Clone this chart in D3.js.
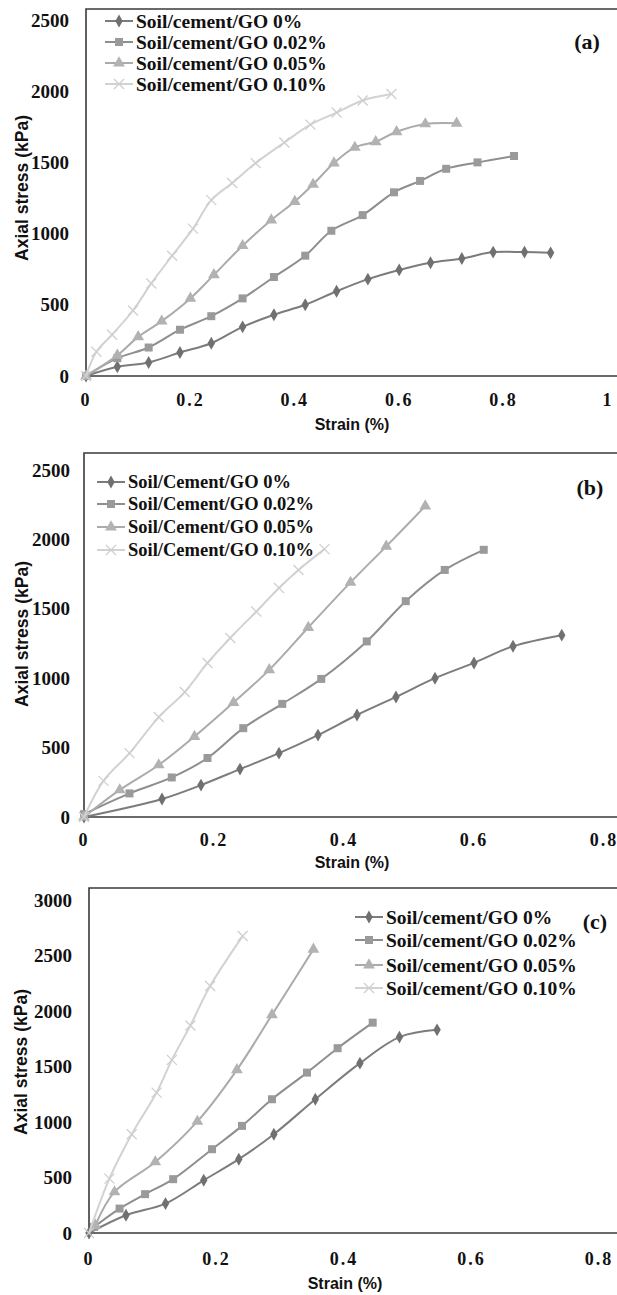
<!DOCTYPE html>
<html>
<head>
<meta charset="utf-8">
<script src="https://cdn.jsdelivr.net/npm/d3@7"></script>
<style>
  body { margin: 0; background: #fff; }
  svg { display: block; }
</style>
</head>
<body>
<svg id="chart" width="617" height="1295"></svg>
<script>
// ---- data: [strain %, axial stress kPa] ----
const goLevels = ["0%", "0.02%", "0.05%", "0.10%"];

const aGO0  = [[0,0],[0.06,65],[0.12,95],[0.18,165],[0.24,230],[0.30,345],[0.36,430],[0.42,500],[0.48,595],[0.54,680],[0.60,745],[0.66,795],[0.72,825],[0.78,870],[0.84,870],[0.89,865]];
const aGO02 = [[0,0],[0.06,125],[0.12,200],[0.18,325],[0.24,420],[0.30,545],[0.36,695],[0.42,845],[0.47,1020],[0.53,1130],[0.59,1290],[0.64,1370],[0.69,1455],[0.75,1500],[0.82,1545]];
const aGO05 = [[0,0],[0.06,145],[0.10,275],[0.145,385],[0.20,545],[0.245,710],[0.30,915],[0.355,1095],[0.40,1225],[0.435,1345],[0.475,1495],[0.515,1605],[0.555,1645],[0.595,1715],[0.65,1770],[0.71,1775]];
const aGO10 = [[0,0],[0.02,170],[0.05,290],[0.09,460],[0.125,650],[0.165,845],[0.205,1035],[0.24,1235],[0.28,1355],[0.325,1495],[0.38,1640],[0.43,1765],[0.48,1850],[0.53,1935],[0.585,1980]];

const bGO0  = [[0,0],[0.12,130],[0.18,230],[0.24,345],[0.30,460],[0.36,590],[0.42,735],[0.48,865],[0.54,1000],[0.60,1110],[0.66,1230],[0.735,1310]];
const bGO02 = [[0,20],[0.07,170],[0.135,285],[0.19,425],[0.245,640],[0.305,815],[0.365,995],[0.435,1265],[0.495,1555],[0.555,1780],[0.615,1925]];
const bGO05 = [[0,0],[0.055,195],[0.115,375],[0.17,580],[0.23,825],[0.285,1060],[0.345,1365],[0.41,1690],[0.465,1950],[0.525,2240]];
const bGO10 = [[0,0],[0.03,260],[0.07,460],[0.115,720],[0.155,900],[0.19,1110],[0.225,1290],[0.265,1480],[0.30,1650],[0.33,1780],[0.37,1930]];

const cGO0  = [[0,0],[0.058,160],[0.12,265],[0.18,475],[0.235,665],[0.29,890],[0.355,1205],[0.425,1530],[0.487,1765],[0.546,1830]];
const cGO02 = [[0.008,55],[0.048,220],[0.088,350],[0.132,485],[0.193,755],[0.24,965],[0.287,1205],[0.342,1445],[0.39,1665],[0.445,1895]];
const cGO05 = [[0.01,70],[0.04,370],[0.104,640],[0.17,1005],[0.232,1470],[0.287,1965],[0.352,2555]];
const cGO10 = [[0,0],[0.032,490],[0.067,890],[0.106,1265],[0.13,1560],[0.159,1870],[0.19,2225],[0.241,2675]];

const xTicksA = [0, 0.2, 0.4, 0.6, 0.8, 1];
const xTicksBC = [0, 0.2, 0.4, 0.6, 0.8];
const yTicksAB = [0, 500, 1000, 1500, 2000, 2500];
const yTicksC = [0, 500, 1000, 1500, 2000, 2500, 3000];

// ---- styles ----
const serif = "'Liberation Serif', 'Times New Roman', serif";
const sans = "'Liberation Sans', Arial, sans-serif";
const lineColor = ["#7c7c7c", "#8e8e8e", "#ababab", "#d2d2d2"];
const markColor = ["#707070", "#9a9a9a", "#b2b2b2", "#cfcfcf"];
const markType = ["diamond", "square", "triangle", "cross"];

const fmtX = v => v === 0 || v === 1 ? String(v) : v.toFixed(1);

const panels = [
  { tag: "(a)", word: "cement", series: [aGO0, aGO02, aGO05, aGO10], xMax: 1, yMax: 2500,
    xTicks: xTicksA, yTicks: yTicksAB,
    left: 86, right: 608, bottom: 376, top: 20, frameTop: 9,
    yLabelX: 69, xLabelY: 406, titleX: 352, titleY: 430, yTitleX: 22, yTitleY: 188,
    legX: 105, legY: [21, 42, 63, 84], legSize: 19.5, tagX: 587, tagY: 49 },
  { tag: "(b)", word: "Cement", series: [bGO0, bGO02, bGO05, bGO10], xMax: 0.8, yMax: 2500,
    xTicks: xTicksBC, yTicks: yTicksAB,
    left: 84, right: 604, bottom: 817, top: 470, frameTop: 453,
    yLabelX: 70, xLabelY: 846, titleX: 352, titleY: 868, yTitleX: 22, yTitleY: 634,
    legX: 97, legY: [482, 504, 527, 550], legSize: 18.5, tagX: 590, tagY: 495 },
  { tag: "(c)", word: "cement", series: [cGO0, cGO02, cGO05, cGO10], xMax: 0.8, yMax: 3000,
    xTicks: xTicksBC, yTicks: yTicksC,
    left: 89, right: 599, bottom: 1233, top: 900, frameTop: 888,
    yLabelX: 72, xLabelY: 1265, titleX: 345, titleY: 1289, yTitleX: 21, yTitleY: 1062,
    legX: 355, legY: [917, 940, 965, 988], legSize: 19.5, tagX: 595, tagY: 929 }
];

const svg = d3.select("#chart");

function drawMarker(g, type, i, x, y) {
  if (type === "cross") {
    const s = 5;
    g.append("path")
      .attr("d", `M${x - s},${y - s}L${x + s},${y + s}M${x - s},${y + s}L${x + s},${y - s}`)
      .attr("stroke", markColor[i]).attr("stroke-width", 1.3).attr("fill", "none");
    return;
  }
  const sym = type === "diamond" ? d3.symbolDiamond : type === "square" ? d3.symbolSquare : d3.symbolTriangle;
  const size = type === "diamond" ? 48 : type === "square" ? 64 : 60;
  g.append("path")
    .attr("d", d3.symbol().type(sym).size(size)())
    .attr("transform", `translate(${x},${y})`)
    .attr("fill", markColor[i]);
}

function renderPanel(p) {
  const g = svg.append("g");
  const x = d3.scaleLinear().domain([0, p.xMax]).range([p.left, p.right]);
  const y = d3.scaleLinear().domain([0, p.yMax]).range([p.bottom, p.top]);

  // frame: left axis, bottom axis, top border running to the page edge
  g.append("path")
    .attr("d", `M617,${p.frameTop}H${p.left}V${p.bottom}H617`)
    .attr("fill", "none").attr("stroke", "#3a3a3a").attr("stroke-width", 1.6);

  g.selectAll(".ylab").data(p.yTicks).join("text")
    .attr("x", p.yLabelX).attr("y", d => y(d)).attr("dy", "0.35em")
    .attr("text-anchor", "end")
    .style("font", `bold 19px ${serif}`).style("fill", "#111")
    .text(d => d);

  g.selectAll(".xlab").data(p.xTicks).join("text")
    .attr("x", d => x(d)).attr("y", p.xLabelY)
    .attr("text-anchor", "middle")
    .style("font", `bold 18px ${serif}`).style("letter-spacing", "2px").style("fill", "#111")
    .text(fmtX);

  g.append("text")
    .attr("x", p.titleX).attr("y", p.titleY)
    .attr("text-anchor", "middle")
    .style("font", `bold 16px ${sans}`).style("fill", "#111")
    .text("Strain (%)");

  g.append("text")
    .attr("transform", `translate(${p.yTitleX},${p.yTitleY}) rotate(-90)`)
    .attr("text-anchor", "middle").attr("dy", "0.35em")
    .style("font", `bold 17.5px ${sans}`).style("fill", "#111")
    .text("Axial stress (kPa)");

  const line = d3.line().x(d => x(d[0])).y(d => y(d[1])).curve(d3.curveCatmullRom.alpha(0.5));

  p.series.forEach((data, i) => {
    g.append("path")
      .attr("d", line(data))
      .attr("fill", "none").attr("stroke", lineColor[i]).attr("stroke-width", 2);
    const mg = g.append("g");
    data.forEach(d => drawMarker(mg, markType[i], i, x(d[0]), y(d[1])));
  });

  // legend
  goLevels.forEach((lvl, i) => {
    const ly = p.legY[i];
    g.append("line")
      .attr("x1", p.legX).attr("x2", p.legX + 28).attr("y1", ly).attr("y2", ly)
      .attr("stroke", lineColor[i]).attr("stroke-width", 2);
    drawMarker(g, markType[i], i, p.legX + 14, ly);
    g.append("text")
      .attr("x", p.legX + 31).attr("y", ly).attr("dy", "0.35em")
      .style("font", `bold ${p.legSize}px ${serif}`).style("fill", "#111")
      .text(`Soil/${p.word}/GO ${lvl}`);
  });

  g.append("text")
    .attr("x", p.tagX).attr("y", p.tagY)
    .attr("text-anchor", "middle")
    .style("font", `bold 22px ${serif}`).style("fill", "#111")
    .text(p.tag);
}

panels.forEach(renderPanel);
</script>
</body>
</html>
